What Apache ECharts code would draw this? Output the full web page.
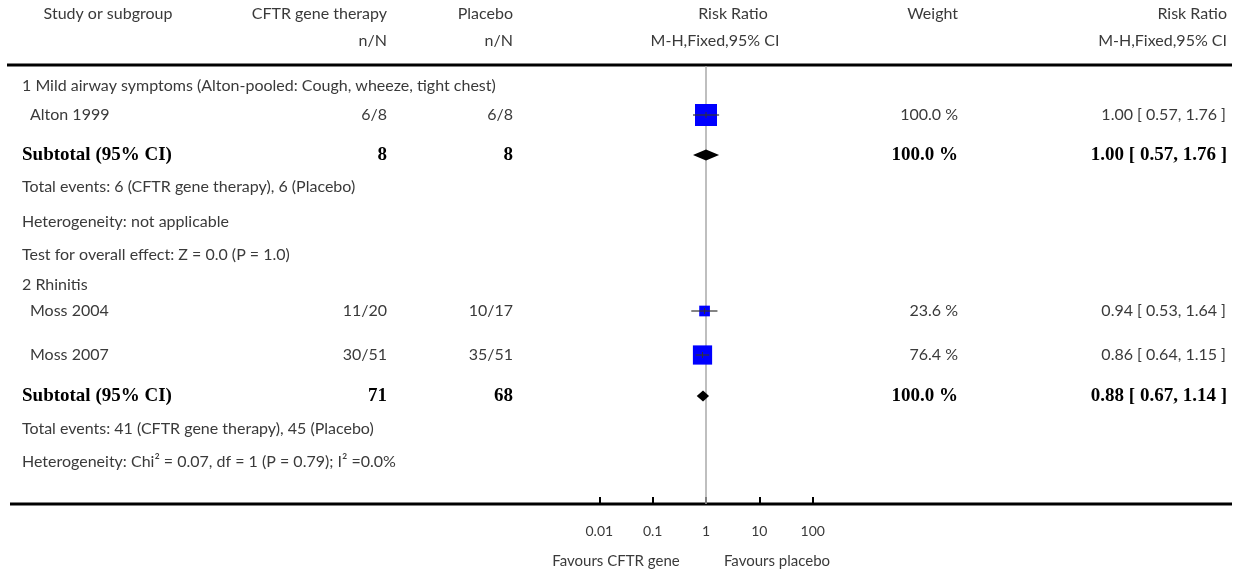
<!DOCTYPE html>
<html>
<head>
<meta charset="utf-8">
<script src="https://cdn.jsdelivr.net/npm/echarts@6/dist/echarts.min.js"></script>
<style>
  html, body { margin: 0; padding: 0; background: #fff; }
  #main { width: 1236px; height: 572px; }
</style>
</head>
<body>
<div id="main"></div>
<script>
// 数据
const studyNames = ["Alton 1999", "Moss 2004", "Moss 2007"];
const treatEvents = ["6/8", "11/20", "30/51"];
const placeboEvents = ["6/8", "10/17", "35/51"];
const studyRR = [1.0, 0.94, 0.86];
const studyLow = [0.57, 0.53, 0.64];
const studyHigh = [1.76, 1.64, 1.15];
const studyWeight = [100.0, 23.6, 76.4];

const groupTitles = ["1 Mild airway symptoms (Alton-pooled: Cough, wheeze, tight chest)", "2 Rhinitis"];
const subTreatN = [8, 71];
const subPlaceboN = [8, 68];
const subRR = [1.0, 0.88];
const subLow = [0.57, 0.67];
const subHigh = [1.76, 1.14];
const subWeight = [100.0, 100.0];
const subTotalEvents = ["Total events: 6 (CFTR gene therapy), 6 (Placebo)", "Total events: 41 (CFTR gene therapy), 45 (Placebo)"];
const subHeterogeneity = ["Heterogeneity: not applicable", "Heterogeneity: Chi\u00b2 = 0.07, df = 1 (P = 0.79); I\u00b2 =0.0%"];
const subOverall = ["Test for overall effect: Z = 0.0 (P = 1.0)", null];

const tickValues = [0.01, 0.1, 1, 10, 100];
const tickLabels = ["0.01", "0.1", "1", "10", "100"];

// 布局 (像素)
const groupY = [86, 285];
const studyY = [115, 311, 355];
const subY = [155, 396];
const totalY = [187, 429];
const hetY = [222, 462];
const overallY = [255, null];

const fontReg = "16px Lato";
const fontBold = "bold 19px 'Liberation Serif'";
const txtColor = "#3a3a3a";

const fmt2 = (v) => v.toFixed(2);
const ciText = (e, l, h) => fmt2(e) + " [ " + fmt2(l) + ", " + fmt2(h) + " ]";

const txt = (s, x, y, align, font, color) => ({
  type: "text", x: x, y: y, silent: true,
  style: { text: s, align: align, verticalAlign: "middle", font: font, fill: color || txtColor }
});

const graphics = [];
// 表头
graphics.push(txt("Study or subgroup", 108, 14, "center", fontReg));
graphics.push(txt("CFTR gene therapy", 387, 14, "right", fontReg));
graphics.push(txt("Placebo", 513, 14, "right", fontReg));
graphics.push(txt("Risk Ratio", 733, 14, "center", fontReg));
graphics.push(txt("Weight", 958, 14, "right", fontReg));
graphics.push(txt("Risk Ratio", 1227, 14, "right", fontReg));
graphics.push(txt("n/N", 387, 41, "right", fontReg));
graphics.push(txt("n/N", 513, 41, "right", fontReg));
graphics.push(txt("M-H,Fixed,95% CI", 715, 41, "center", fontReg));
graphics.push(txt("M-H,Fixed,95% CI", 1227, 41, "right", fontReg));
graphics.push({ type: "line", shape: { x1: 7, y1: 65, x2: 1232, y2: 65 }, style: { stroke: "#000", lineWidth: 3 } });
graphics.push({ type: "line", shape: { x1: 10, y1: 504, x2: 1232, y2: 504 }, style: { stroke: "#000", lineWidth: 3 } });

for (let g = 0; g < groupTitles.length; g++) {
  graphics.push(txt(groupTitles[g], 22, groupY[g], "left", fontReg));
}
for (let i = 0; i < studyNames.length; i++) {
  graphics.push(txt(studyNames[i], 30, studyY[i], "left", fontReg));
  graphics.push(txt(treatEvents[i], 387, studyY[i], "right", fontReg));
  graphics.push(txt(placeboEvents[i], 513, studyY[i], "right", fontReg));
  graphics.push(txt(studyWeight[i].toFixed(1) + " %", 958, studyY[i], "right", fontReg));
  graphics.push(txt(ciText(studyRR[i], studyLow[i], studyHigh[i]), 1226, studyY[i], "right", fontReg));
}
for (let g = 0; g < subRR.length; g++) {
  graphics.push(txt("Subtotal (95% CI)", 22, subY[g], "left", fontBold, "#000"));
  graphics.push(txt(String(subTreatN[g]), 387, subY[g], "right", fontBold, "#000"));
  graphics.push(txt(String(subPlaceboN[g]), 513, subY[g], "right", fontBold, "#000"));
  graphics.push(txt(subWeight[g].toFixed(1) + " %", 958, subY[g], "right", fontBold, "#000"));
  graphics.push(txt(ciText(subRR[g], subLow[g], subHigh[g]), 1227, subY[g], "right", fontBold, "#000"));
  graphics.push(txt(subTotalEvents[g], 22, totalY[g], "left", fontReg));
  graphics.push(txt(subHeterogeneity[g], 22, hetY[g], "left", fontReg));
  if (subOverall[g]) graphics.push(txt(subOverall[g], 22, overallY[g], "left", fontReg));
}
graphics.push(txt("Favours CFTR gene", 616, 561, "center", "15px Lato"));
graphics.push(txt("Favours placebo", 777, 561, "center", "15px Lato"));

const studyData = studyNames.map((n, i) => [studyRR[i], studyY[i], studyLow[i], studyHigh[i], studyWeight[i]]);
const subData = subRR.map((v, g) => [v, subY[g], subLow[g], subHigh[g]]);

const option = {
  animation: false,
  backgroundColor: "#fff",
  grid: { left: 599.3, right: 423.3, top: 66, bottom: 68 },
  xAxis: {
    type: "log",
    logBase: 10,
    min: 0.01,
    max: 100,
    axisLine: { show: false },
    axisTick: { show: true, inside: true, length: 7, lineStyle: { color: "#000", width: 2 } },
    splitLine: { show: false },
    axisLabel: {
      margin: 20,
      color: txtColor,
      fontFamily: "Lato",
      fontSize: 14,
      formatter: (v) => {
        const k = tickValues.findIndex((t) => Math.abs(Math.log10(t) - Math.log10(v)) < 1e-6);
        return k >= 0 ? tickLabels[k] : "";
      }
    }
  },
  yAxis: { type: "value", min: 66, max: 504, inverse: true, show: false },
  series: [
    {
      type: "line",
      data: [[1, 66], [1, 504]],
      symbol: "none",
      lineStyle: { color: "#aaa", width: 1.5 },
      silent: true,
      z: 1
    },
    {
      type: "custom",
      data: studyData,
      z: 3,
      renderItem: (params, api) => {
        const c = api.coord([api.value(0), api.value(1)]);
        const lo = api.coord([api.value(2), api.value(1)]);
        const hi = api.coord([api.value(3), api.value(1)]);
        const side = 22 * Math.sqrt(api.value(4) / 100);
        return {
          type: "group",
          children: [
            { type: "rect", shape: { x: c[0] - side / 2, y: c[1] - side / 2, width: side, height: side }, style: { fill: "#0000ff" } },
            { type: "line", shape: { x1: lo[0], y1: c[1], x2: hi[0], y2: c[1] }, style: { stroke: "#333", lineWidth: 1.2 } },
            { type: "line", shape: { x1: c[0], y1: c[1] - 3, x2: c[0], y2: c[1] + 3 }, style: { stroke: "#333", lineWidth: 1 } }
          ]
        };
      }
    },
    {
      type: "custom",
      data: subData,
      z: 3,
      renderItem: (params, api) => {
        const c = api.coord([api.value(0), api.value(1)]);
        const lo = api.coord([api.value(2), api.value(1)]);
        const hi = api.coord([api.value(3), api.value(1)]);
        return {
          type: "polygon",
          shape: { points: [[lo[0], c[1]], [c[0], c[1] - 5.5], [hi[0], c[1]], [c[0], c[1] + 5.5]] },
          style: { fill: "#000" }
        };
      }
    }
  ],
  graphic: graphics
};

const chart = echarts.init(document.getElementById("main"));
chart.setOption(option);
</script>
</body>
</html>
